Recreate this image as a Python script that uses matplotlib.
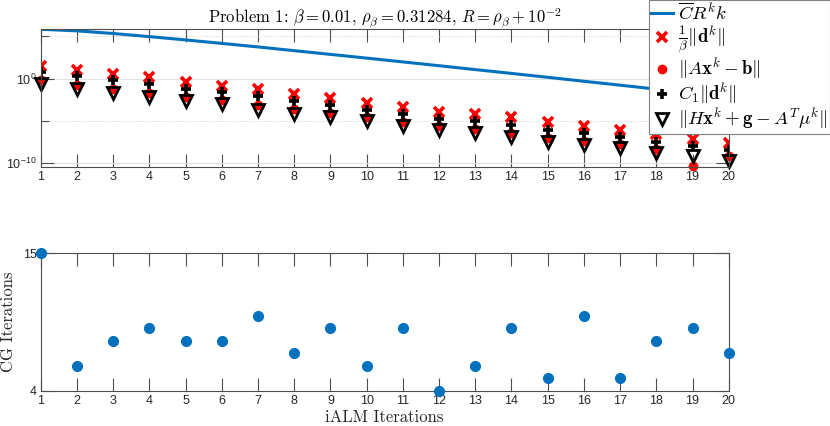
import matplotlib
matplotlib.use("Agg")
import matplotlib.pyplot as plt
import numpy as np
from matplotlib.ticker import FixedLocator, NullFormatter
from matplotlib.font_manager import FontProperties

plt.rcParams['font.family'] = ['Liberation Sans', 'DejaVu Sans']
plt.rcParams['mathtext.fontset'] = 'custom'
plt.rcParams['mathtext.rm'] = 'Liberation Sans'
plt.rcParams['mathtext.it'] = 'Liberation Sans:italic'
plt.rcParams['mathtext.bf'] = 'Liberation Sans:bold'

# data (log10 values)
k = np.arange(1, 21)
bound_exp = [5.85, 5.66, 5.35, 4.98, 4.59, 4.18, 3.76, 3.32, 2.88, 2.44,
             1.99, 1.54, 1.08, 0.63, 0.17, -0.30, -0.76, -1.23, -1.69, -2.16]
dbeta_exp = [1.45, 0.98, 0.56, 0.15, -0.44, -0.91, -1.26, -1.76, -2.24, -2.82,
             -3.34, -3.93, -4.12, -4.52, -5.11, -5.61, -6.08, -6.59, -7.18, -7.65]
resid_exp = [-0.17, -0.76, -1.23, -1.70, -2.17, -2.52, -3.15, -3.62, -4.02, -4.52,
             -5.11, -5.58, -5.97, -6.37, -6.96, -7.35, -7.74, -8.25, -10.32, -9.19]
c1d_exp = [0.74, 0.27, -0.20, -0.67, -1.26, -1.61, -2.08, -2.64, -3.06, -3.65,
           -4.12, -4.71, -4.99, -5.49, -6.08, -6.47, -6.94, -7.46, -7.96, -8.44]
kkt_exp = [-0.67, -1.26, -1.73, -2.20, -2.67, -3.02, -3.65, -4.12, -4.52, -5.02,
           -5.61, -6.08, -6.47, -6.87, -7.46, -7.85, -8.24, -8.75, -9.14, -9.69]
cg_iters = [15, 6, 8, 9, 8, 8, 10, 7, 9, 6, 9, 4, 6, 9, 5, 10, 5, 8, 9, 7]

blue = '#0072BD'
axcol = '#4d4d4d'
txtcol = '#262626'

fig = plt.figure(figsize=(8.3, 4.26), dpi=100)
ax1 = fig.add_axes([0.049, 0.6087, 0.829, 0.324])
ax2 = fig.add_axes([0.049, 0.0829, 0.829, 0.3225])

p = lambda e: 10.0 ** np.array(e)

ax1.plot(k, p(bound_exp), color=blue, lw=2.2, label=r'$\overline{C}R^kk$')
ax1.plot(k, p(dbeta_exp), 'x', color='red', ms=6.5, mew=2.6,
         label=r'$\frac{1}{\beta}\|\mathbf{d}^k\|$')
ax1.plot(k, p(resid_exp), 'o', color='red', ms=6,
         label=r'$\|A\mathbf{x}^k-\mathbf{b}\|$', clip_on=False)
ax1.plot(k, p(c1d_exp), '+', color='k', ms=7, mew=2.6,
         label=r'$C_1\|\mathbf{d}^k\|$')
ax1.plot(k, p(kkt_exp), 'v', mfc='none', mec='k', ms=9, mew=2.0,
         label=r'$\|H\mathbf{x}^k+\mathbf{g}-A^T\mu^k\|$', clip_on=False)
ax1.set_yscale('log')
ax1.set_xlim(1, 20)
ax1.set_ylim(10 ** -10.4, 10 ** 5.92)
ax1.set_xticks(k)
ax1.yaxis.set_major_locator(FixedLocator([1e-10, 1e0]))
ax1.set_yticklabels([r'$10^{-10}$', r'$10^{0}$'])
ax1.yaxis.set_minor_locator(FixedLocator([1e-5, 1e5]))
ax1.yaxis.set_minor_formatter(NullFormatter())
ax1.yaxis.grid(True, which='major', color='#e3e3e3', lw=0.8)
ax1.yaxis.grid(True, which='minor', color='#c8c8c8', lw=0.6, ls=':')
ax1.set_axisbelow(True)
ax1.set_title(r'Problem 1: $\beta = 0.01$, $\rho_\beta = 0.31284$, $R = \rho_\beta + 10^{-2}$',
              fontsize=12, pad=4, color='k', family='cmr10', math_fontfamily='cm')

leg = fig.legend(loc='upper right', bbox_to_anchor=(0.9995, 0.999),
                 prop=FontProperties(size=13.5, math_fontfamily='cm'),
                 fancybox=False, edgecolor='#808080', framealpha=1,
                 handlelength=1.2, handletextpad=0.25, labelspacing=0.0,
                 borderpad=0.1, borderaxespad=0)
leg.get_frame().set_linewidth(0.8)

ax2.plot(k, cg_iters, 'o', color=blue, ms=7, clip_on=False, zorder=3)
ax2.set_xlim(1, 20)
ax2.set_ylim(4, 15)
ax2.set_xticks(k)
ax2.set_yticks([4, 15])
ax2.set_ylabel('CG Iterations', fontsize=12, family='cmr10', color=txtcol)
ax2.yaxis.set_label_coords(-0.036, 0.5)
ax2.set_xlabel('iALM Iterations', fontsize=12, family='cmr10',
               labelpad=2, color=txtcol)

for ax in (ax1, ax2):
    for s in ax.spines.values():
        s.set_color(axcol)
        s.set_linewidth(0.8)
    ax.tick_params(which='major', direction='in', length=9.5, width=0.8,
                   color=axcol, labelcolor=txtcol, labelsize=9,
                   top=True, right=True, pad=3)
    ax.tick_params(which='minor', direction='in', length=5.5, width=0.8,
                   color=axcol, top=False, right=True)

fig.savefig('out.png', dpi=100)
